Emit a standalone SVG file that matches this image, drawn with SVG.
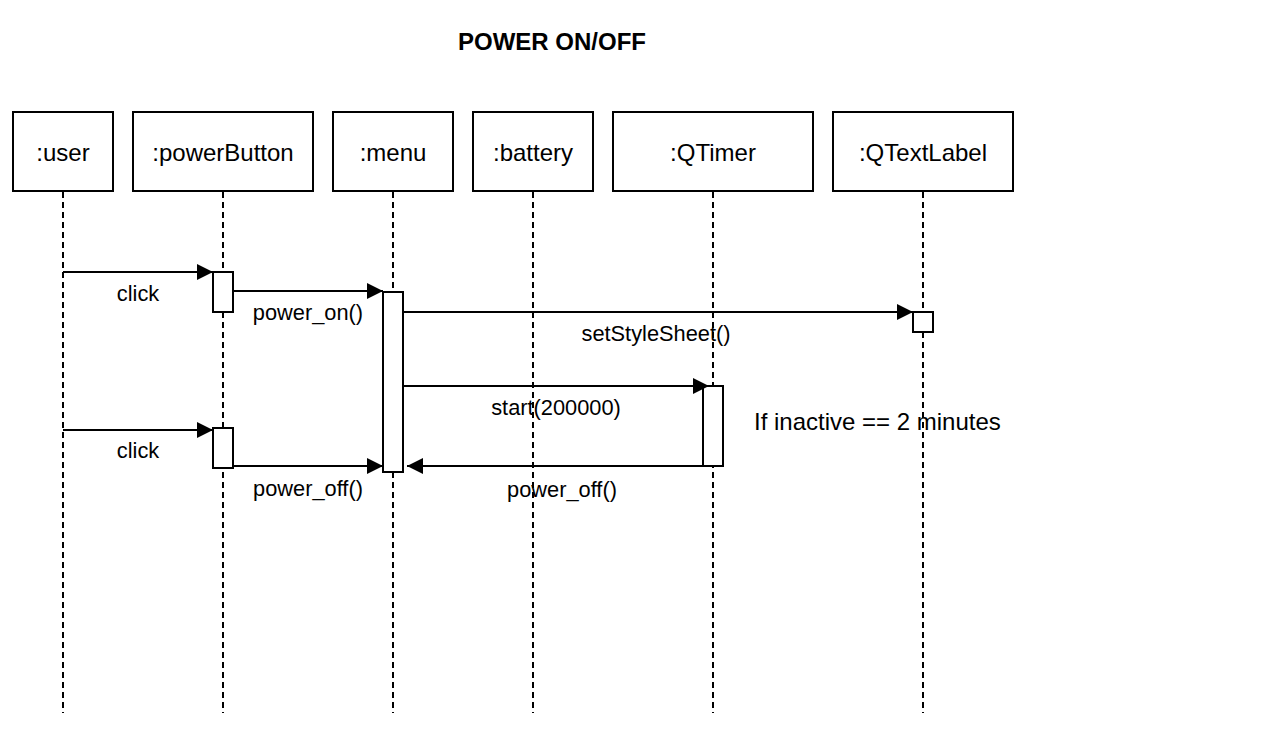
<svg xmlns="http://www.w3.org/2000/svg" width="1273" height="747" viewBox="0 0 1273 747">
<style>
.box{fill:#fff;stroke:#000;stroke-width:2}
.life{stroke:#000;stroke-width:2;stroke-dasharray:6 4;fill:none}
.act{fill:#fff;stroke:#000;stroke-width:2}
.msg{stroke:#000;stroke-width:2;fill:none;marker-end:url(#arr)}
.lbl{font-family:"Liberation Sans",Arial,sans-serif;font-size:24px;fill:#000;text-anchor:middle}
.ml{font-family:"Liberation Sans",Arial,sans-serif;font-size:21.8px;fill:#000;text-anchor:middle}
.title{font-family:"Liberation Sans",Arial,sans-serif;font-size:24px;font-weight:bold;fill:#000;text-anchor:middle}
</style>
<defs>
<marker id="arr" markerUnits="userSpaceOnUse" markerWidth="18" markerHeight="18" refX="16" refY="8" orient="auto">
<path d="M0,0 L16,8 L0,16 Z" fill="#000"/>
</marker>
</defs>
<rect width="1273" height="747" fill="#fff"/>
<text class="title" x="552" y="50">POWER ON/OFF</text>

<g id="lifelines">
<line class="life" x1="63" y1="192" x2="63" y2="713"/>
<line class="life" x1="223" y1="192" x2="223" y2="713"/>
<line class="life" x1="393" y1="192" x2="393" y2="713"/>
<line class="life" x1="533" y1="192" x2="533" y2="713"/>
<line class="life" x1="713" y1="192" x2="713" y2="713"/>
<line class="life" x1="923" y1="192" x2="923" y2="713"/>
</g>

<g id="user"><rect class="box" x="13" y="112" width="100" height="79"/><text class="lbl" x="63" y="161">:user</text></g>
<g id="powerButton"><rect class="box" x="133" y="112" width="180" height="79"/><text class="lbl" x="223" y="161">:powerButton</text></g>
<g id="menu"><rect class="box" x="333" y="112" width="120" height="79"/><text class="lbl" x="393" y="161">:menu</text></g>
<g id="battery"><rect class="box" x="473" y="112" width="120" height="79"/><text class="lbl" x="533" y="161">:battery</text></g>
<g id="qtimer"><rect class="box" x="613" y="112" width="200" height="79"/><text class="lbl" x="713" y="161">:QTimer</text></g>
<g id="qtextlabel"><rect class="box" x="833" y="112" width="180" height="79"/><text class="lbl" x="923" y="161">:QTextLabel</text></g>

<g id="activations">
<rect class="act" x="213" y="272" width="20" height="40"/>
<rect class="act" x="213" y="428" width="20" height="40"/>
<rect class="act" x="383" y="292" width="20" height="180"/>
<rect class="act" x="703" y="386" width="20" height="80"/>
<rect class="act" x="913" y="312" width="20" height="20"/>
</g>

<g id="connectors">
<line class="msg" x1="63" y1="272" x2="213" y2="272"/>
<line class="msg" x1="233" y1="291" x2="383" y2="291"/>
<line class="msg" x1="403" y1="312" x2="913" y2="312"/>
<line class="msg" x1="403" y1="386" x2="709" y2="386"/>
<line class="msg" x1="63" y1="430" x2="213" y2="430"/>
<line class="msg" x1="233" y1="466" x2="383" y2="466"/>
<line class="msg" x1="703" y1="466" x2="407" y2="466"/>
</g>

<g id="labels">
<text class="ml" x="138" y="301">click</text>
<text class="ml" x="308" y="320">power_on()</text>
<text class="ml" x="656" y="341">setStyleSheet()</text>
<text class="ml" x="556" y="415">start(200000)</text>
<text class="ml" x="138" y="458">click</text>
<text class="ml" x="308" y="496">power_off()</text>
<text class="ml" x="562" y="497">power_off()</text>
<text class="lbl" x="754" y="430" style="text-anchor:start">If inactive == 2 minutes</text>
</g>
</svg>
